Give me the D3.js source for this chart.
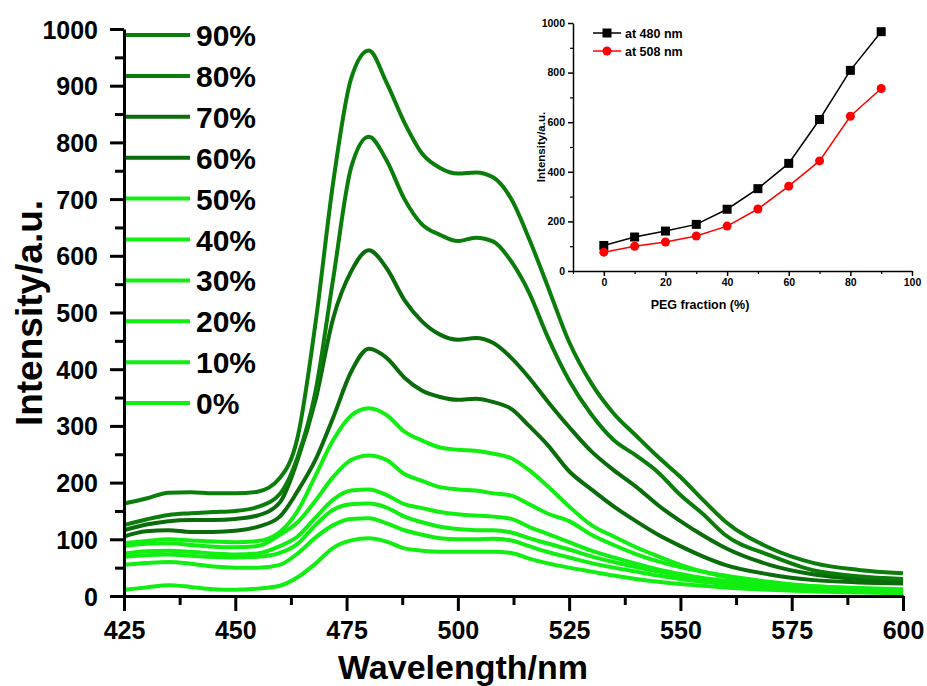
<!DOCTYPE html>
<html>
<head>
<meta charset="utf-8">
<script src="https://cdn.jsdelivr.net/npm/d3@7/dist/d3.min.js"></script>
<style>
  body { margin: 0; background: #fff; }
  text { font-family: "Liberation Sans", Arial, sans-serif; font-weight: bold; fill: #000; }
</style>
</head>
<body>
<div id="chart-container"></div>
<script>
// emission spectra, intensity (a.u.) vs wavelength (nm)
const wavelengths = [425,430,435,440,445,450,455,460,464,468,472,476,480,484,488,492,496,500,504,508,512,516,520,525,530,535,540,545,550,555,560,570,580,590,600];

const pct90 = [163,172,182,183,181,181,184,208,280,480,730,912,962,905,835,780,755,745,747,738,700,630,550,448,375,322,283,245,210,170,132,85,58,46,40];
const pct80 = [125,135,143,146,148,150,157,180,245,360,560,755,810,768,700,655,637,626,632,625,590,535,460,380,320,275,248,218,178,145,108,72,45,35,30];
const pct70 = [116,126,132,134,134,136,142,165,240,345,490,572,610,578,522,484,461,452,455,446,420,385,345,298,255,222,193,160,132,107,85,55,38,30,26];
const pct60 = [105,114,116,113,113,115,122,140,185,240,315,395,436,420,385,362,351,346,348,342,330,300,268,220,188,158,132,108,88,70,55,38,28,24,22];
const pct50 = [93,97,100,98,96,95,97,113,150,212,275,318,331,319,290,274,262,258,256,251,243,222,195,158,125,105,86,70,55,43,34,23,17,14,12];
const pct40 = [88,92,93,90,87,86,88,108,130,168,210,240,248,240,215,203,192,188,186,181,177,162,146,132,108,90,74,61,51,43,36,25,17,13,11];
const pct30 = [75,79,80,78,75,73,75,88,105,138,170,186,188,178,162,155,148,144,142,140,136,122,110,95,80,68,57,47,39,32,27,19,14,11,9];
const pct20 = [69,72,73,71,69,68,69,76,92,125,152,162,163,156,140,130,122,118,116,116,112,102,93,82,70,60,51,43,36,30,25,18,13,10,8];
const pct10 = [55,58,60,57,52,50,50,55,75,103,125,136,137,128,116,108,102,100,100,101,98,88,78,68,58,50,43,36,30,25,21,15,11,8,7];
const pct0 = [11,15,19,16,12,11,13,18,33,57,85,98,102,96,84,80,78,78,78,78,76,66,58,50,43,36,30,25,21,18,15,11,8,6,5];

const fractionLabels = ["90%","80%","70%","60%","50%","40%","30%","20%","10%","0%"];
const seriesColors = ["#0b7d0b","#0b7d0b","#0a6c0a","#0a6c0a","#11ee11","#11ee11","#11ee11","#11ee11","#11ee11","#11ee11"];

// inset: intensity at the two peaks vs PEG fraction
const pegFraction = [0,10,20,30,40,50,60,70,80,90];
const at480 = [103,137,161,188,249,332,434,611,809,965];
const at508 = [76,100,117,141,181,250,342,444,624,736];

const xTicks = [425,450,475,500,525,550,575,600];
const yTicks = [0,100,200,300,400,500,600,700,800,900,1000];
const insetXTicks = [0,20,40,60,80,100];
const insetYTicks = [0,200,400,600,800,1000];

const main = function() {
  const spectra = [pct90, pct80, pct70, pct60, pct50, pct40, pct30, pct20, pct10, pct0];

  const svg = d3.select("#chart-container")
    .append("svg")
    .attr("width", 927)
    .attr("height", 686);

  const x = d3.scaleLinear().domain([425, 600]).range([124, 903]);
  const y = d3.scaleLinear().domain([0, 1000]).range([596, 29]);

  const line = d3.line()
    .x(d => x(d[0]))
    .y(d => y(d[1]))
    .curve(d3.curveMonotoneX);

  // spectra, lowest first so dark ones sit on top
  svg.append("g")
    .selectAll("path")
    .data(spectra.map((s, i) => ({ vals: s, color: seriesColors[i] })).reverse())
    .enter()
    .append("path")
    .attr("d", d => line(wavelengths.map((w, j) => [w, d.vals[j]])))
    .style("fill", "none")
    .style("stroke", d => d.color)
    .style("stroke-width", 4)
    .style("stroke-linejoin", "round");

  // main axes
  const styleAxis = function(g, w) {
    g.selectAll("path").style("stroke", "#000").style("stroke-width", w);
    g.selectAll("line").style("stroke", "#000").style("stroke-width", w);
  };

  const yMinor = svg.append("g")
    .attr("transform", "translate(124,0)")
    .call(d3.axisLeft(y).tickValues(d3.range(50, 1000, 100)).tickSize(9).tickFormat(""));
  yMinor.select(".domain").remove();
  styleAxis(yMinor, 3);

  const xMinor = svg.append("g")
    .attr("transform", "translate(0,596)")
    .call(d3.axisBottom(x).tickValues(d3.range(437.5, 600, 25)).tickSize(9).tickFormat(""));
  xMinor.select(".domain").remove();
  styleAxis(xMinor, 3);

  const yAxis = svg.append("g")
    .attr("transform", "translate(124,0)")
    .call(d3.axisLeft(y).tickValues(yTicks).tickFormat(d3.format("d")).tickSize(14).tickSizeOuter(0).tickPadding(12));
  styleAxis(yAxis, 3);
  yAxis.selectAll("text").style("font-size", "25px").attr("dy", "0.36em");

  const xAxis = svg.append("g")
    .attr("transform", "translate(0,596)")
    .call(d3.axisBottom(x).tickValues(xTicks).tickFormat(d3.format("d")).tickSize(15).tickSizeOuter(0).tickPadding(10));
  styleAxis(xAxis, 3);
  xAxis.selectAll("text").style("font-size", "25px");

  svg.append("text")
    .attr("x", 463)
    .attr("y", 679)
    .attr("text-anchor", "middle")
    .style("font-size", "34px")
    .text("Wavelength/nm");

  svg.append("text")
    .attr("transform", "translate(42,313) rotate(-90)")
    .attr("text-anchor", "middle")
    .style("font-size", "37px")
    .text("Intensity/a.u.");

  // legend
  const legend = svg.append("g")
    .selectAll("g")
    .data(fractionLabels)
    .enter()
    .append("g")
    .attr("transform", (d, i) => "translate(0," + (35 + i * 40.9) + ")");

  legend.append("line")
    .attr("x1", 126)
    .attr("x2", 190)
    .style("stroke", (d, i) => seriesColors[i])
    .style("stroke-width", 4);

  legend.append("text")
    .attr("x", 196)
    .attr("y", 11)
    .style("font-size", "30px")
    .text(d => d);

  // inset
  const ix = d3.scaleLinear().domain([-10, 100]).range([573, 912]);
  const iy = d3.scaleLinear().domain([0, 1000]).range([271, 23]);

  const inset = svg.append("g");

  const iyMinor = inset.append("g")
    .attr("transform", "translate(573,0)")
    .call(d3.axisLeft(iy).tickValues(d3.range(100, 1000, 200)).tickSize(3).tickFormat(""));
  iyMinor.select(".domain").remove();
  styleAxis(iyMinor, 1.2);

  const ixMinor = inset.append("g")
    .attr("transform", "translate(0,271)")
    .call(d3.axisBottom(ix).tickValues(d3.range(-10, 100, 20)).tickSize(3).tickFormat(""));
  ixMinor.select(".domain").remove();
  styleAxis(ixMinor, 1.2);

  const iyAxis = inset.append("g")
    .attr("transform", "translate(573,0)")
    .call(d3.axisLeft(iy).tickValues(insetYTicks).tickFormat(d3.format("d")).tickSize(5).tickSizeOuter(0).tickPadding(3));
  styleAxis(iyAxis, 1.5);
  iyAxis.selectAll("text").style("font-size", "10.5px");

  const ixAxis = inset.append("g")
    .attr("transform", "translate(0,271)")
    .call(d3.axisBottom(ix).tickValues(insetXTicks).tickFormat(d3.format("d")).tickSize(5).tickSizeOuter(0).tickPadding(3));
  styleAxis(ixAxis, 1.5);
  ixAxis.selectAll("text").style("font-size", "10.5px");

  inset.append("text")
    .attr("x", 700)
    .attr("y", 309)
    .attr("text-anchor", "middle")
    .style("font-size", "12.5px")
    .text("PEG fraction (%)");

  inset.append("text")
    .attr("transform", "translate(545,147) rotate(-90)")
    .attr("text-anchor", "middle")
    .style("font-size", "11.5px")
    .text("Intensity/a.u.");

  const insetSeries = [
    { name: "at 480 nm", vals: at480, color: "#000", shape: "square" },
    { name: "at 508 nm", vals: at508, color: "#f00", shape: "circle" }
  ];

  const iline = d3.line().x(d => ix(d[0])).y(d => iy(d[1]));

  insetSeries.forEach(function(s, k) {
    const pts = pegFraction.map((f, j) => [f, s.vals[j]]);
    inset.append("path")
      .attr("d", iline(pts))
      .style("fill", "none")
      .style("stroke", s.color)
      .style("stroke-width", 1.5);

    if (s.shape === "square") {
      inset.selectAll(null)
        .data(pts)
        .enter()
        .append("rect")
        .attr("x", d => ix(d[0]) - 4.5)
        .attr("y", d => iy(d[1]) - 4.5)
        .attr("width", 9)
        .attr("height", 9)
        .style("fill", s.color);
    } else {
      inset.selectAll(null)
        .data(pts)
        .enter()
        .append("circle")
        .attr("cx", d => ix(d[0]))
        .attr("cy", d => iy(d[1]))
        .attr("r", 4.5)
        .style("fill", s.color);
    }

    // legend entry
    const ly = 33 + k * 18;
    inset.append("line")
      .attr("x1", 593).attr("x2", 621)
      .attr("y1", ly).attr("y2", ly)
      .style("stroke", s.color)
      .style("stroke-width", 1.5);
    if (s.shape === "square") {
      inset.append("rect")
        .attr("x", 602.5).attr("y", ly - 4.5)
        .attr("width", 9).attr("height", 9)
        .style("fill", s.color);
    } else {
      inset.append("circle")
        .attr("cx", 607).attr("cy", ly).attr("r", 4.5)
        .style("fill", s.color);
    }
    inset.append("text")
      .attr("x", 625)
      .attr("y", ly + 4.5)
      .style("font-size", "12.5px")
      .text(s.name);
  });
};

window.onload = main;
</script>
</body>
</html>
